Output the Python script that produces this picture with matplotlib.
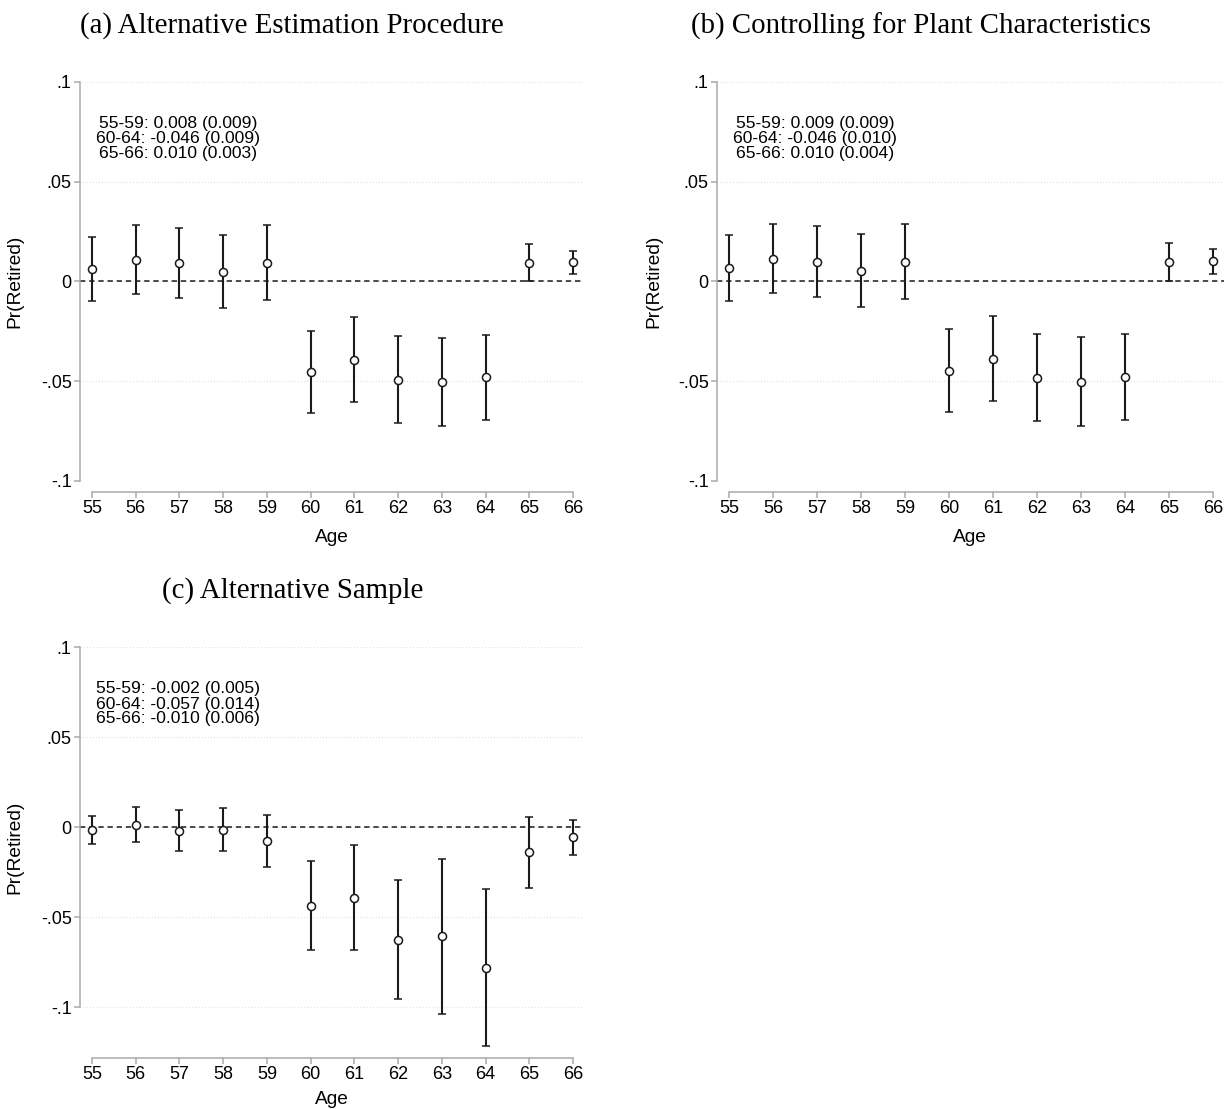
import numpy as np
import matplotlib
matplotlib.use("Agg")
import matplotlib.pyplot as plt

# ---------------- data ----------------
ages = [55, 56, 57, 58, 59, 60, 61, 62, 63, 64, 65, 66]

# (a) Alternative Estimation Procedure
a_est = [0.0062, 0.0108, 0.0093, 0.0048, 0.0093, -0.0453, -0.0393, -0.0492, -0.0505, -0.0478, 0.0093, 0.0097]
a_lo  = [-0.0100, -0.0062, -0.0083, -0.0132, -0.0095, -0.0657, -0.0605, -0.0707, -0.0725, -0.0692, 0.0000, 0.0040]
a_hi  = [0.0223, 0.0283, 0.0270, 0.0232, 0.0283, -0.0248, -0.0180, -0.0273, -0.0285, -0.0267, 0.0187, 0.0155]

# (b) Controlling for Plant Characteristics
b_est = [0.0067, 0.0115, 0.0100, 0.0055, 0.0100, -0.0448, -0.0387, -0.0483, -0.0502, -0.0478, 0.0097, 0.0102]
b_lo  = [-0.0097, -0.0058, -0.0080, -0.0128, -0.0088, -0.0652, -0.0598, -0.0700, -0.0723, -0.0693, 0.0003, 0.0040]
b_hi  = [0.0233, 0.0288, 0.0280, 0.0240, 0.0290, -0.0240, -0.0173, -0.0265, -0.0277, -0.0265, 0.0192, 0.0163]

# (c) Alternative Sample
c_est = [-0.0019, 0.0011, -0.0022, -0.0015, -0.0078, -0.0437, -0.0393, -0.0626, -0.0606, -0.0781, -0.0141, -0.0057]
c_lo  = [-0.0096, -0.0085, -0.0133, -0.0135, -0.0222, -0.0685, -0.0685, -0.0956, -0.1037, -0.1219, -0.0337, -0.0154]
c_hi  = [0.0063, 0.0111, 0.0093, 0.0106, 0.0067, -0.0189, -0.0100, -0.0294, -0.0176, -0.0344, 0.0054, 0.0039]

titles = ["(a) Alternative Estimation Procedure",
          "(b) Controlling for Plant Characteristics",
          "(c) Alternative Sample"]
notes = [["55-59: 0.008 (0.009)", "60-64: -0.046 (0.009)", "65-66: 0.010 (0.003)"],
         ["55-59: 0.009 (0.009)", "60-64: -0.046 (0.010)", "65-66: 0.010 (0.004)"],
         ["55-59: -0.002 (0.005)", "60-64: -0.057 (0.014)", "65-66: -0.010 (0.006)"]]
yticks = [-0.1, -0.05, 0, 0.05, 0.1]
yticklabels = ["-.1", "-.05", "0", ".05", ".1"]
ylabel = "Pr(Retired)"
xlabel = "Age"

# ---------------- layout ----------------
W, H = 1228, 1109
fig = plt.figure(figsize=(W / 100, H / 100), dpi=100)
fig.patch.set_facecolor("white")

SANS = ["Liberation Sans", "DejaVu Sans"]
SERIF = ["Liberation Serif", "DejaVu Serif"]
AXC = "#a9a9a9"
INK = "#1a1a1a"

def px_axes(l, r, t, b):
    return fig.add_axes([l / W, 1 - b / H, (r - l) / W, (b - t) / H])

panels = [
    dict(box=(80, 584, 82, 481), ylim=(-0.1, 0.1), est=a_est, lo=a_lo, hi=a_hi,
         title_xy=(292, 26), ylab_x=15, xlab_y=537),
    dict(box=(717, 1224, 82, 481), ylim=(-0.1, 0.1), est=b_est, lo=b_lo, hi=b_hi,
         title_xy=(921, 26), ylab_x=654, xlab_y=537),
    dict(box=(80, 584, 647, 1047), ylim=(-0.1222, 0.1), est=c_est, lo=c_lo, hi=c_hi,
         title_xy=(293, 591), ylab_x=15, xlab_y=1100),
]

for i, p in enumerate(panels):
    l, r, t, b = p["box"]
    ax = px_axes(l, r, t, b)
    ax.set_xlim(54.727, 66.25)
    ax.set_ylim(*p["ylim"])
    ax.set_facecolor("white")

    # grid (dotted) at y ticks
    for yv in yticks:
        ax.axhline(yv, color="#d0d0d0", lw=0.8, ls=(0, (0.6, 2.2)), zorder=0)
    # zero reference line
    ax.axhline(0, color=INK, lw=1.1, ls=(0, (3.5, 2.5)), zorder=1)

    est = np.array(p["est"])
    lo = np.array(p["lo"])
    hi = np.array(p["hi"])
    ax.errorbar(ages, est, yerr=[est - lo, hi - est], fmt="o", color=INK,
                ecolor=INK, elinewidth=1.5, capsize=3.0, capthick=1.5,
                markersize=5.8, markerfacecolor="white", markeredgecolor=INK,
                markeredgewidth=1.1, zorder=3, clip_on=False)

    # spines
    for s in ["top", "right"]:
        ax.spines[s].set_visible(False)
    ax.spines["left"].set_color(AXC)
    ax.spines["bottom"].set_color(AXC)
    ax.spines["left"].set_linewidth(1.1)
    ax.spines["bottom"].set_linewidth(1.1)
    ax.spines["left"].set_bounds(-0.1, 0.1)
    ax.spines["bottom"].set_bounds(55, 66)
    ax.spines["bottom"].set_position(("outward", 8))

    ax.set_xticks(ages)
    ax.set_xticklabels([str(a) for a in ages])
    ax.set_yticks(yticks)
    ax.set_yticklabels(yticklabels)
    ax.tick_params(axis="both", colors=AXC, length=4.5, width=1.1, labelcolor="black",
                   labelsize=13, pad=1.5)
    for lab in ax.get_xticklabels() + ax.get_yticklabels():
        lab.set_family(SANS)

    # notes (three lines)
    axh = b - t
    cx = 98 / (r - l)
    for k, line in enumerate(notes[i]):
        ypx = 42 + 15.0 * k
        ax.text(cx, 1 - ypx / axh, line, transform=ax.transAxes, ha="center",
                va="center", fontsize=12.6, family=SANS, color="black")

    # axis labels
    fig.text(p["ylab_x"] / W, 1 - ((t + b) / 2) / H, ylabel, rotation=90,
             ha="center", va="center", fontsize=13.8, family=SANS)
    fig.text(((l + r - 11) / 2 + 5) / W, 1 - p["xlab_y"] / H, xlabel,
             ha="center", va="center", fontsize=13.8, family=SANS)

    # title
    fig.text(p["title_xy"][0] / W, 1 - p["title_xy"][1] / H, titles[i],
             ha="center", va="center", fontsize=20.8, family=SERIF)

fig.savefig("out.png", dpi=100, facecolor="white")
